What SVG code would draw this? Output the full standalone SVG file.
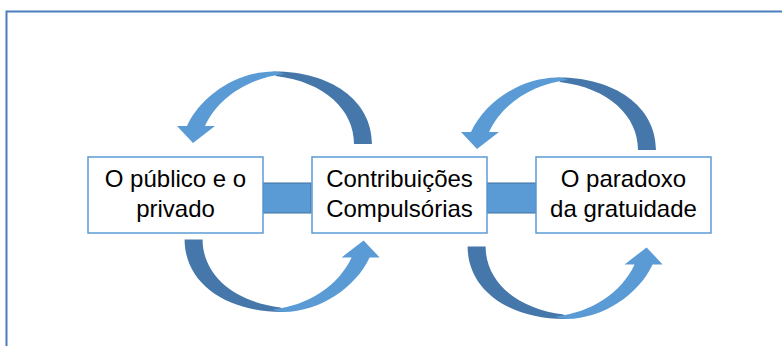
<svg xmlns="http://www.w3.org/2000/svg" width="782" height="346" viewBox="0 0 782 346">
<defs>
<style>
.box{fill:#fff;stroke:#5b9bd5;stroke-width:1.5}
.bar{fill:#5b9bd5;stroke:#41719c;stroke-width:1}
.lbl{font-family:"Liberation Sans",Arial,sans-serif;font-size:24px;fill:#000;text-anchor:middle}
.dark{fill:#4677aa}
.light{fill:#5b9bd5}
</style>
<g id="curved-arrow">
<path class="dark" d="M273,71.5 C330,71 372,100 372,144 L354,144 C354,110 325,82 276,76 Z"/>
<path class="light" d="M273,71.5 C236,72 201,96 187,126 L177,126 L193,143 L215,126 L205,126 C218,98 248,78 284,74 C281,72.5 277,71.5 273,71.5 Z"/>
</g>
</defs>
<rect x="6.5" y="11.5" width="800" height="400" fill="none" stroke="#4a7ebb" stroke-width="2"/>
<g id="connectors">
<rect class="bar" x="263" y="183" width="48" height="30"/>
<rect class="bar" x="487" y="183" width="49" height="30"/>
<use href="#curved-arrow"/>
<use href="#curved-arrow" transform="translate(284,6)"/>
<use href="#curved-arrow" transform="rotate(180 278.3 191.7)"/>
<use href="#curved-arrow" transform="translate(283,7) rotate(180 278.3 191.7)"/>
</g>
<g id="node-publico">
<rect class="box" x="88" y="157" width="175" height="76"/>
<text class="lbl" x="175.5" y="187">O público e o</text>
<text class="lbl" x="175.5" y="216.5">privado</text>
</g>
<g id="node-contribuicoes">
<rect class="box" x="312" y="157" width="175" height="76"/>
<text class="lbl" x="399.5" y="187">Contribuições</text>
<text class="lbl" x="399.5" y="216.5">Compulsórias</text>
</g>
<g id="node-paradoxo">
<rect class="box" x="536" y="157" width="175" height="76"/>
<text class="lbl" x="623.5" y="187">O paradoxo</text>
<text class="lbl" x="623.5" y="216.5">da gratuidade</text>
</g>
</svg>
